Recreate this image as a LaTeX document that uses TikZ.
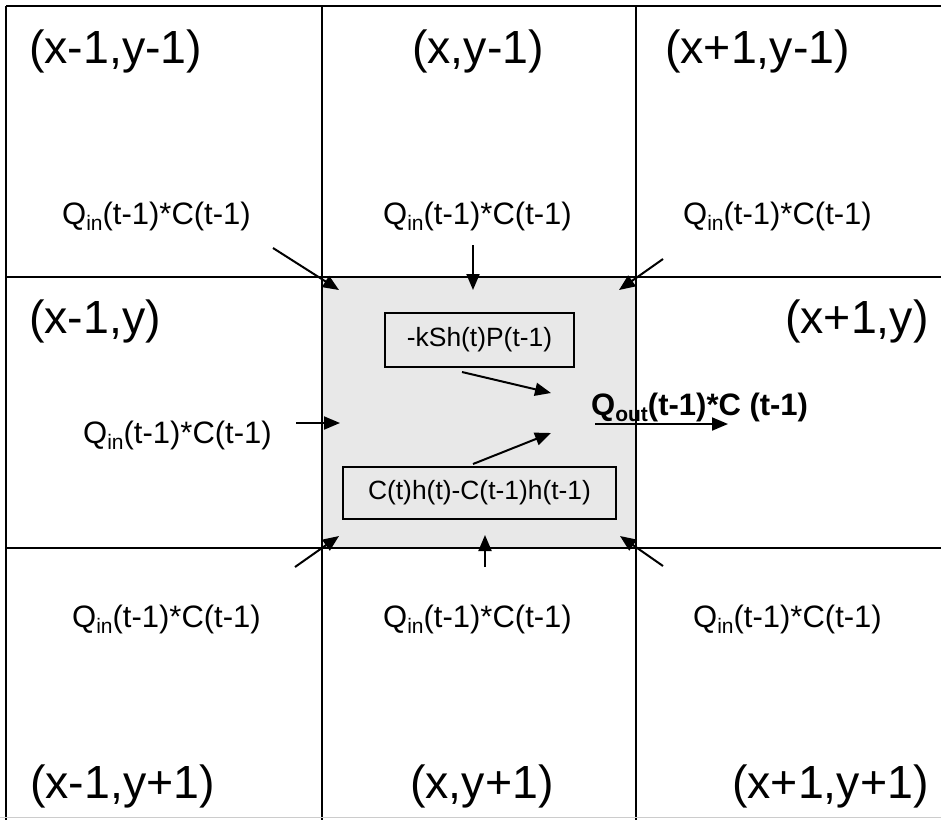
\documentclass[tikz,border=0pt]{standalone}
\usepackage{fontspec}
\setmainfont{Liberation Sans}
\usetikzlibrary{arrows.meta}
\newcommand\LabBig{\fontsize{46.5}{50}\selectfont}
\newcommand\LabMid{\fontsize{31}{34}\selectfont}
\newcommand\LabBox{\fontsize{26.4}{30}\selectfont}
\newcommand\Qsub[1]{\raisebox{-6pt}{\fontsize{21}{21}\selectfont #1}}
\newcommand\Qin{Q\Qsub{in}(t-1)*C(t-1)}
\definecolor{cellgray}{HTML}{E8E8E8}
\begin{document}
\begin{tikzpicture}[x=1pt,y=-1pt,
  gridline/.style={line width=2pt,black},
  flow/.style={line width=2pt,-{Triangle[length=16pt,width=13pt]}},
  lab/.style={anchor=base west,inner sep=0pt,font=\LabBig},
  qlab/.style={anchor=base west,inner sep=0pt,font=\LabMid},
  termbox/.style={draw,line width=1.3pt,inner sep=0pt,font=\LabBox,align=center}]
\useasboundingbox (0,0) rectangle (941,820);
\fill[white] (0,0) rectangle (941,820);
% centre cell
\fill[cellgray] (322,277) rectangle (636,548);
% grid
\draw[gridline] (6,6) -- (941,6);
\draw[gridline] (6,277) -- (941,277);
\draw[gridline] (6,548) -- (941,548);
\draw[gridline] (6,6) -- (6,820);
\draw[gridline] (322,6) -- (322,820);
\draw[gridline] (636,6) -- (636,820);
\draw[line width=1pt,black!20] (0,817.5) -- (941,817.5);
% cell labels
\node[lab] (c11) at (29,63) {(x-1,y-1)};
\node[lab] (c21) at (412,63) {(x,y-1)};
\node[lab] (c31) at (665,63) {(x+1,y-1)};
\node[lab] (c12) at (29,333) {(x-1,y)};
\node[lab] (c32) at (785,333) {(x+1,y)};
\node[lab] (c13) at (30,798) {(x-1,y+1)};
\node[lab] (c23) at (410,798) {(x,y+1)};
\node[lab] (c33) at (732,798) {(x+1,y+1)};
% flux labels
\node[qlab] (q11) at (62,224) {\Qin};
\node[qlab] (q21) at (383,224) {\Qin};
\node[qlab] (q31) at (683,224) {\Qin};
\node[qlab] (q12) at (83,443) {\Qin};
\node[qlab] (q13) at (72,627) {\Qin};
\node[qlab] (q23) at (383,627) {\Qin};
\node[qlab] (q33) at (693,627) {\Qin};
\node[qlab,font=\LabMid\bfseries] (qout) at (591,415) {Q\Qsub{out}(t-1)*C (t-1)};
% term boxes
\node[termbox,minimum width=189pt,minimum height=54pt] (kterm) at (479.5,340) {-kSh(t)P(t-1)};
\node[termbox,minimum width=273pt,minimum height=52pt] (cterm) at (479.5,493) {C(t)h(t)-C(t-1)h(t-1)};
% arrow coordinates
\coordinate (a1s) at (273,248); \coordinate (a1e) at (339,290);
\coordinate (a2s) at (473,245); \coordinate (a2e) at (473,290);
\coordinate (a3s) at (663,259); \coordinate (a3e) at (619,290);
\coordinate (a4s) at (296,423); \coordinate (a4e) at (340,423);
\coordinate (a5s) at (295,567); \coordinate (a5e) at (339,536);
\coordinate (a6s) at (485,567); \coordinate (a6e) at (485,535);
\coordinate (a7s) at (663,566); \coordinate (a7e) at (620,536);
\coordinate (k1s) at (462,372); \coordinate (k1e) at (551,393);
\coordinate (c1s) at (473,464); \coordinate (c1e) at (551,433);
\coordinate (os) at (595,424); \coordinate (oe) at (728,424);
\draw[flow] (a1s) -- (a1e);
\draw[flow] (a2s) -- (a2e);
\draw[flow] (a3s) -- (a3e);
\draw[flow] (a4s) -- (a4e);
\draw[flow] (a5s) -- (a5e);
\draw[flow] (a6s) -- (a6e);
\draw[flow] (a7s) -- (a7e);
\draw[flow] (k1s) -- (k1e);
\draw[flow] (c1s) -- (c1e);
\draw[flow] (os) -- (oe);
\end{tikzpicture}
\end{document}
